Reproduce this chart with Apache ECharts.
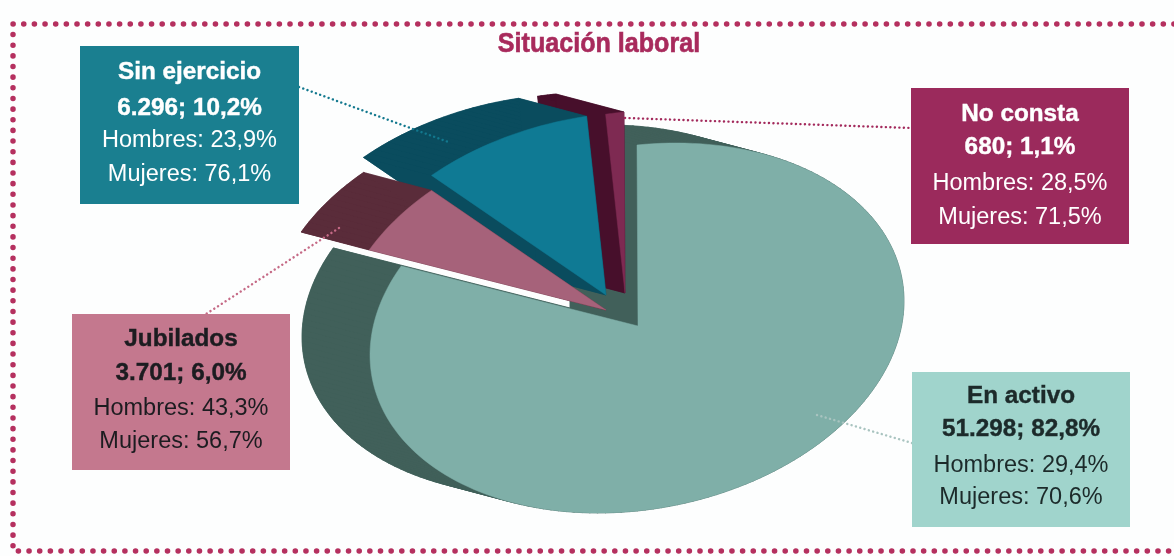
<!DOCTYPE html>
<html><head><meta charset="utf-8">
<style>html,body{margin:0;padding:0;background:#fdfefe}#c{width:1174px;height:556px}</style>
<script src="https://cdn.jsdelivr.net/npm/echarts@6/dist/echarts.min.js"></script>
</head><body><div id="c"></div>
<script>
// --- data (clockwise from 12 o'clock) ---
const categories = ['En activo', 'Jubilados', 'Sin ejercicio', 'No consta'];
const counts     = [51298, 3701, 6296, 680];
const countText  = ['51.298; 82,8%', '3.701; 6,0%', '6.296; 10,2%', '680; 1,1%'];
const hombres    = ['Hombres: 29,4%', 'Hombres: 43,3%', 'Hombres: 23,9%', 'Hombres: 28,5%'];
const mujeres    = ['Mujeres: 70,6%', 'Mujeres: 56,7%', 'Mujeres: 76,1%', 'Mujeres: 71,5%'];
const title      = 'Situación laboral';

// --- style / layout ---
const topColors  = ['#7fafa8', '#a6627a', '#0f7a94', '#7e2a52'];
const sideColors = ['#41605a', '#5a2c3a', '#0a4c5e', '#470f2b'];
const boxColors  = ['#a0d4cc', '#c4788e', '#1a7f90', '#9b2a5c'];
const textColors = ['#1c2a2a', '#1c1c20', '#ffffff', '#ffffff'];
const explode    = [[0, 0], [-32, -16], [-32, -31], [-13, -33]];
const boxes      = [[912, 372, 218, 155], [72, 314, 218, 156], [80, 46, 219, 158], [911, 88, 218, 156]];
const textRows   = [[24, 57, 94, 126], [25, 59, 95, 128], [26, 62, 95, 129], [26, 59, 96, 130]];
const leaders    = [
  [[817, 415], [912, 443], '#a9c4c0'],
  [[339, 228], [206, 314], '#c56a86'],
  [[299, 87], [451, 143], '#12788e'],
  [[625, 118], [911, 128], '#a32a5c']
];
const drawOrder  = [0, 3, 2, 1];
const depth = [-68, -18];
const E = { cx: 637, cy: 328, a: 267, b: 183, shear: 27, ax: 638, ay: 326 };

const total = counts.reduce((s, v) => s + v, 0);
const startDeg = [];
counts.reduce((acc, v, i) => { startDeg[i] = acc; return acc + v / total * 360; }, 0);

function rim(t) {
  const s = Math.sin(t), c = Math.cos(t);
  return [E.cx + E.a * s, E.cy - E.b * c - E.shear * s];
}
function sector(i, off) {
  const ox = explode[i][0] + off[0], oy = explode[i][1] + off[1];
  const t0 = startDeg[i] * Math.PI / 180, span = counts[i] / total * 2 * Math.PI;
  const n = Math.max(6, Math.ceil(span / 0.03));
  const rimPts = [];
  for (let k = 0; k <= n; k++) {
    const p = rim(t0 + span * k / n);
    rimPts.push([p[0] + ox, p[1] + oy]);
  }
  return { apex: [E.ax + ox, E.ay + oy], rim: rimPts };
}
function poly(points, fill) {
  return { type: 'polygon', shape: { points }, style: { fill, stroke: fill, lineWidth: 0.5 } };
}
function renderSide(params, api) {
  const i = api.value(0);
  const front = sector(i, [0, 0]), back = sector(i, depth);
  const kids = [poly([back.apex].concat(back.rim), sideColors[i])];
  const fr = [front.apex].concat(front.rim), bk = [back.apex].concat(back.rim);
  for (let k = 0; k < fr.length; k++) {
    const m = (k + 1) % fr.length;
    kids.push(poly([fr[k], fr[m], bk[m], bk[k]], sideColors[i]));
  }
  return { type: 'group', children: kids };
}
function renderTop(params, api) {
  const i = api.value(0);
  const f = sector(i, [0, 0]);
  return poly([f.apex].concat(f.rim), topColors[i]);
}
const rows = drawOrder.map(i => [i, counts[i]]);

// --- overlay graphics ---
const font = '"Liberation Sans", Arial, sans-serif';
const graphic = [];
graphic.push({
  type: 'polyline', z: 1, silent: true,
  shape: { points: [[1174, 24], [13, 24], [13, 551], [1174, 551]] },
  style: { fill: 'none', stroke: '#b5305f', lineWidth: 5.5, lineCap: 'round', lineDash: [0.1, 10.55] }
});
graphic.push({
  type: 'text', z: 20, x: 599, y: 45, scaleX: 0.93, originX: 0, originY: 0,
  style: { text: title, fill: '#a82a5c', stroke: '#a82a5c', lineWidth: 0.6,
           font: 'bold 27px "Liberation Sans", sans-serif', align: 'center', verticalAlign: 'middle' }
});
categories.forEach((name, i) => {
  const [x, y, w, h] = boxes[i], col = textColors[i], mid = x + w / 2;
  const L = leaders[i];
  graphic.push({
    type: 'line', z: 12, silent: true,
    shape: { x1: L[0][0], y1: L[0][1], x2: L[1][0], y2: L[1][1] },
    style: { stroke: L[2], lineWidth: 2.4, lineCap: 'round', lineDash: [0.1, 4.4] }
  });
  graphic.push({ type: 'rect', z: 13, shape: { x, y, width: w, height: h }, style: { fill: boxColors[i] } });
  [[name, true], [countText[i], true], [hombres[i], false], [mujeres[i], false]].forEach((t, r) => {
    const st = { text: t[0], fill: col, align: 'center', verticalAlign: 'middle',
                 font: (t[1] ? 'bold 24.3px ' : '23.5px ') + font };
    if (t[1]) { st.stroke = col; st.lineWidth = 0.4; }
    graphic.push({ type: 'text', z: 14, x: mid, y: y + textRows[i][r], style: st });
  });
});

const chart = echarts.init(document.getElementById('c'), null, { renderer: 'canvas' });
chart.setOption({
  animation: false,
  backgroundColor: '#fdfefe',
  graphic,
  series: [
    { type: 'custom', coordinateSystem: 'none', z: 3, silent: true, renderItem: renderSide, data: rows },
    { type: 'custom', coordinateSystem: 'none', z: 4, silent: true, renderItem: renderTop, data: rows }
  ]
});
</script></body></html>
